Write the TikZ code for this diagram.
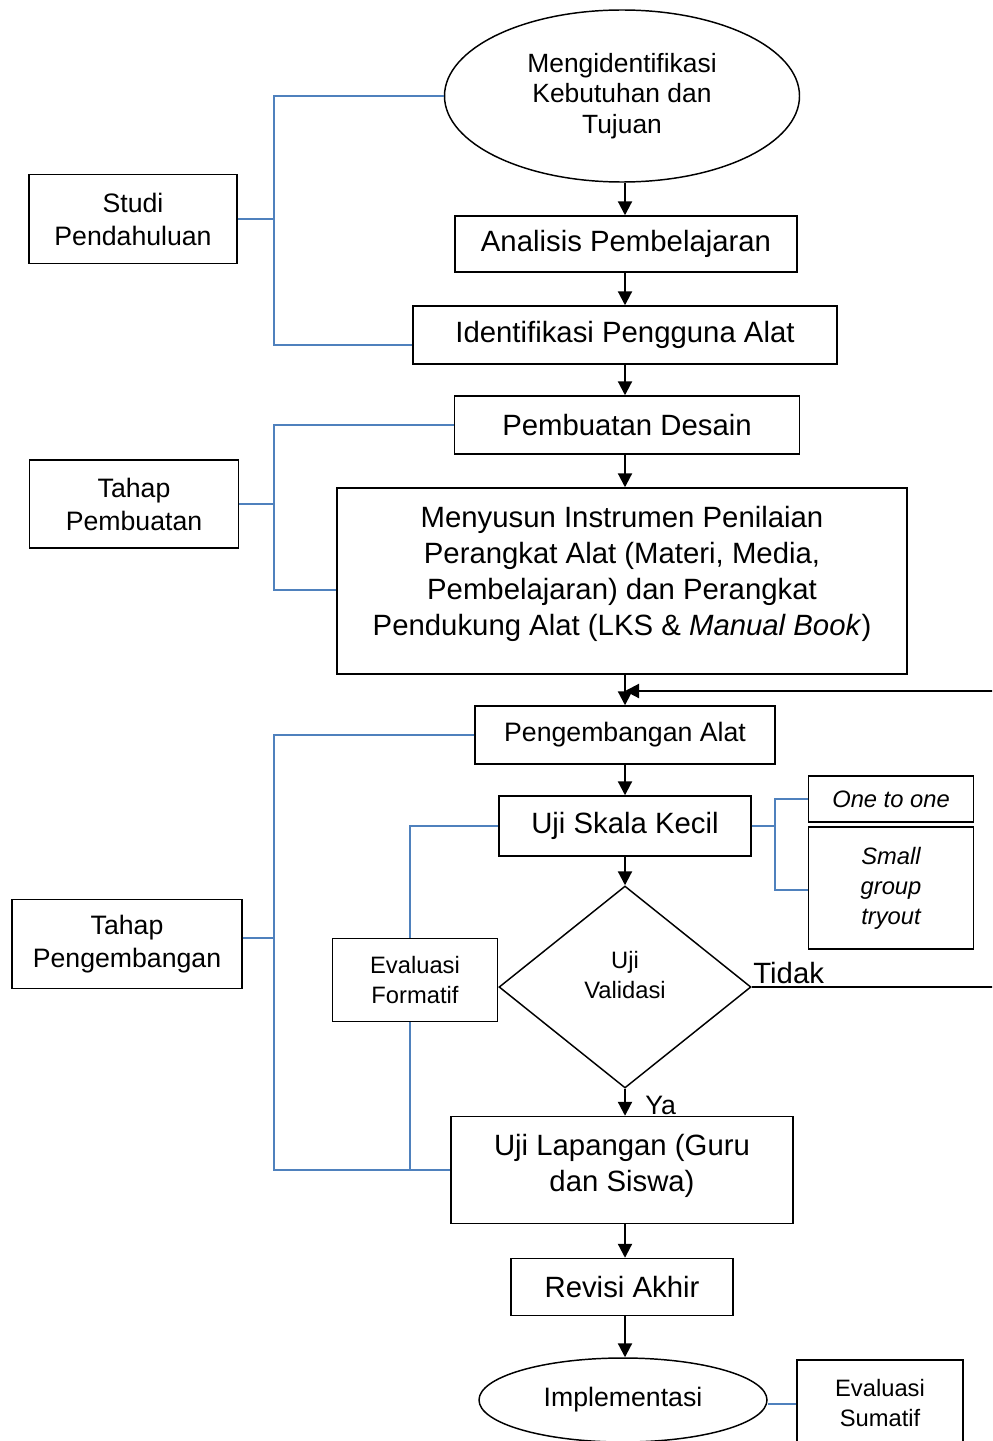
\documentclass[tikz,border=0pt]{standalone}
\usepackage{fontspec}
\setmainfont{Liberation Sans}
\usetikzlibrary{arrows.meta, shapes.geometric}
\definecolor{brk}{RGB}{79,129,189}
\newcommand\fbig{\fontsize{22}{27}\selectfont}
\newcommand\fmid{\fontsize{20}{24.75}\selectfont}
\newcommand\fgoal{\fontsize{19.8}{23}\selectfont}
\newcommand\fsml{\fontsize{17.8}{22.5}\selectfont}
\tikzset{
  box/.style={draw, line width=1.1pt, align=center, inner sep=0pt},
  wh/.style 2 args={minimum width=#1*.75pt, minimum height=#2*.75pt},
  bline/.style={brk, line width=1.3pt},
  arr/.style={line width=1.6pt, -{Triangle[length=10.5pt,width=10.5pt]}},
}

\begin{document}
\begin{tikzpicture}[x=.75pt, y=-.75pt]
\useasboundingbox (0,0) rectangle (992,1441);
\clip (0,0) rectangle (992,1441);

% main column
\node[box, ellipse, wh={355}{172}, font=\fgoal] (goal) at (622,96) {Mengidentifikasi\\Kebutuhan dan\\Tujuan};
\node[box, wh={342}{56}, font=\fbig] (analisis) at (626,244) {Analisis Pembelajaran};
\node[box, wh={424}{58}, font=\fbig] (ident) at (625,335) {Identifikasi Pengguna Alat};
\node[box, wh={345}{58}, font=\fbig] (desain) at (627,425) {Pembuatan Desain};
\node[box, wh={570}{186}, font=\fbig, text depth=15pt] (susun) at (622,581) {Menyusun Instrumen Penilaian\\Perangkat Alat (Materi, Media,\\Pembelajaran) dan Perangkat\\Pendukung Alat (LKS \& \textit{Manual Book})};
\node[box, wh={300}{58}, font=\fmid] (kembang) at (625,735) {Pengembangan Alat};
\node[box, wh={252}{60}, font=\fbig] (skala) at (625,826) {Uji Skala Kecil};
\node[box, diamond, wh={252}{202}] (valid) at (625,987) {};
\node[align=center, inner sep=0pt, font=\fsml] (validtxt) at (625,975) {Uji\\Validasi};
\node[box, wh={342}{107}, font=\fbig, text depth=11pt] (lapangan) at (622,1170) {Uji Lapangan (Guru\\dan Siswa)};
\node[box, wh={222}{57}, font=\fbig] (revisi) at (622,1287) {Revisi Akhir};
\node[box, ellipse, wh={288}{84}, font=\fmid] (impl) at (623,1400) {Implementasi};

% side boxes
\node[box, wh={208}{89}, font=\fmid] (studi) at (133,219) {Studi\\Pendahuluan};
\node[box, wh={209}{88}, font=\fmid] (buat) at (134,504) {Tahap\\Pembuatan};
\node[box, wh={230}{89}, font=\fmid] (tkembang) at (127,944) {Tahap\\Pengembangan};
\node[box, wh={165}{83}, font=\fsml] (formatif) at (415,980) {Evaluasi\\Formatif};
\node[box, wh={165}{46}, font=\fsml\itshape] (one) at (891,799) {One to one};
\node[box, wh={165}{122}, font=\fsml\itshape] (small) at (891,888) {Small\\group\\tryout};
\node[box, wh={166}{86}, font=\fsml] (sumatif) at (880,1403) {Evaluasi\\Sumatif};

% labels
\node[font=\fbig, anchor=south west, inner sep=1pt] (tidak) at ([yshift=1.5pt]valid.east) {Tidak};
\node[font=\fmid, anchor=west, inner sep=0pt] (ya) at (645,1105) {Ya};

\coordinate (ax) at (625,0);
\coordinate (sx) at (274,0);
\coordinate (fx) at (410,0);
\coordinate (ox) at (775,0);
\coordinate (back) at (1012,691);

% flow arrows
\draw[arr] (goal.south -| ax) -- (analisis.north -| ax);
\draw[arr] (analisis.south -| ax) -- (ident.north -| ax);
\draw[arr] (ident.south -| ax) -- (desain.north -| ax);
\draw[arr] (desain.south -| ax) -- (susun.north -| ax);
\draw[arr] (susun.south -| ax) -- (kembang.north -| ax);
\draw[arr] (kembang.south -| ax) -- (skala.north -| ax);
\draw[arr] (skala.south -| ax) -- (valid.north);
\draw[arr] (valid.south) -- (lapangan.north -| ax);
\draw[arr] (lapangan.south -| ax) -- (revisi.north -| ax);
\draw[arr] (revisi.south -| ax) -- (impl.north -| ax);
\draw[arr] (valid.east) -| (back) -- (back -| ax); %tidak

% brackets
\draw[bline] (goal.west) -- (goal.west -| sx) -- ([yshift=-7.5pt]ident.west -| sx) -- ([yshift=-7.5pt]ident.west);
\draw[bline] (studi.east) -- (studi.east -| sx);
\draw[bline] (desain.west) -- (desain.west -| sx) -- ([yshift=-6.75pt]susun.west -| sx) -- ([yshift=-6.75pt]susun.west);
\draw[bline] (buat.east) -- (buat.east -| sx);
\draw[bline] (kembang.west) -- (kembang.west -| sx) -- (lapangan.west -| sx) -- (lapangan.west);
\draw[bline] ([yshift=4.5pt]tkembang.east) -- ([yshift=4.5pt]tkembang.east -| sx);
\draw[bline] (formatif.north -| fx) -- (skala.west -| fx) -- (skala.west);
\draw[bline] (formatif.south -| fx) -- (lapangan.west -| fx);
\draw[bline] (skala.east) -- (skala.east -| ox);
\draw[bline] (one.west) -- (one.west -| ox) -- ([yshift=-1.5pt]small.west -| ox) -- ([yshift=-1.5pt]small.west);
\draw[bline] ([yshift=-3pt]impl.east) -- ([yshift=-3pt]impl.east -| sumatif.west);

\end{tikzpicture}
\end{document}
